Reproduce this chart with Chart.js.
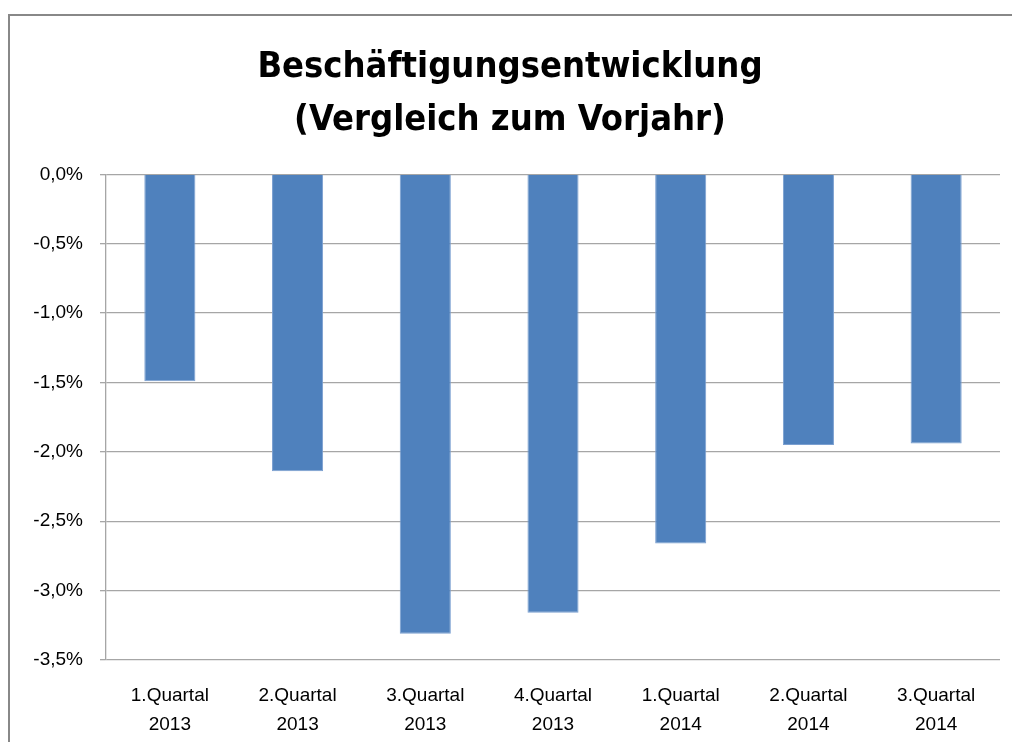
<!DOCTYPE html>
<html>
<head>
<meta charset="utf-8">
<script src="https://cdn.jsdelivr.net/npm/chart.js@4/dist/chart.umd.min.js"></script>
<style>
html,body{margin:0;padding:0;background:#fff;}
#wrap{position:relative;width:1012px;height:742px;overflow:hidden;}
</style>
</head>
<body>
<div id="wrap"><canvas id="c" width="1012" height="742"></canvas></div>
<script>
const categories = [["1.Quartal","2013"],["2.Quartal","2013"],["3.Quartal","2013"],["4.Quartal","2013"],["1.Quartal","2014"],["2.Quartal","2014"],["3.Quartal","2014"]];
const values = [-1.49, -2.14, -3.31, -3.16, -2.66, -1.95, -1.94];
const titleLines = ["Beschäftigungsentwicklung", "(Vergleich zum Vorjahr)"];

const framePlugin = {
  id: 'frame',
  beforeDraw(chart) {
    const ctx = chart.ctx;
    ctx.save();
    ctx.fillStyle = '#fff';
    ctx.fillRect(0, 0, chart.width, chart.height);
    ctx.strokeStyle = '#888';
    ctx.lineWidth = 2;
    ctx.strokeRect(9, 15, 1100, 800);
    ctx.restore();
  }
};

new Chart(document.getElementById('c'), {
  type: 'bar',
  data: {
    labels: categories,
    datasets: [{
      data: values,
      backgroundColor: '#4f81bd',
      borderColor: '#7a9fd0',
      borderWidth: 1,
      barPercentage: 0.4,
      categoryPercentage: 1.0
    }]
  },
  options: {
    responsive: false,
    animation: false,
    layout: { padding: { left: 20, right: 12, top: 42, bottom: 0 } },
    plugins: {
      legend: { display: false },
      tooltip: { enabled: false },
      title: {
        display: true,
        text: titleLines,
        color: '#000',
        font: { family: '"Liberation Sans Narrow", "DejaVu Sans Condensed", sans-serif', size: 36, weight: 'bold', lineHeight: 1.45 },
        padding: { top: 0, bottom: 28 }
      }
    },
    scales: {
      x: {
        grid: { display: false, drawTicks: false },
        border: { display: false },
        ticks: {
          color: '#000',
          font: { family: '"Liberation Sans", sans-serif', size: 19, lineHeight: 1.5 },
          padding: 22,
          maxRotation: 0,
          autoSkip: false
        },
        afterFit(scale) { scale.height = 82; }
      },
      y: {
        min: -3.5,
        max: 0,
        grid: { color: '#a6a6a6', lineWidth: 1.3, tickLength: 6, drawTicks: true },
        border: { display: true, color: '#a6a6a6', width: 1.3 },
        ticks: {
          stepSize: 0.5,
          color: '#000',
          padding: 17,
          font: { family: '"Liberation Sans", sans-serif', size: 19 },
          callback: v => v.toFixed(1).replace('.', ',') + '%'
        },
        afterFit(scale) { scale.width = 106 - 20; }
      }
    }
  },
  plugins: [framePlugin]
});
</script>
</body>
</html>
